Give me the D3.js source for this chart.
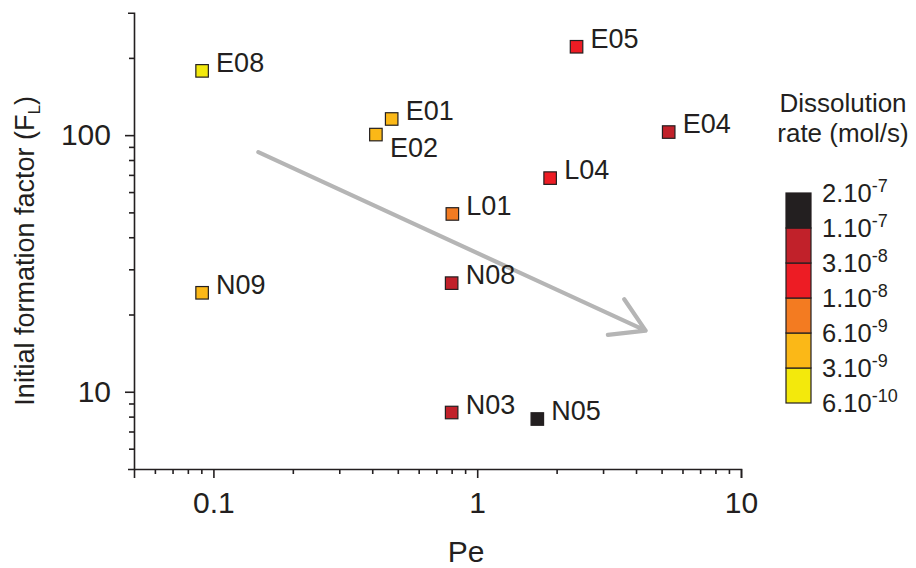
<!DOCTYPE html>
<html>
<head>
<meta charset="utf-8">
<script src="https://cdn.jsdelivr.net/npm/d3@7"></script>
<style>
  html, body { margin: 0; padding: 0; background: #fff; }
  text { font-family: "Liberation Sans", Arial, sans-serif; fill: #231f20; }
</style>
</head>
<body>
<svg id="chart" width="916" height="568"></svg>
<script>
// ---- data ----
const samples = ["E08", "E01", "E02", "E05", "E04", "L04", "L01", "N08", "N09", "N03", "N05"];
const peValues = [0.0906, 0.474, 0.413, 2.38, 5.32, 1.89, 0.805, 0.80, 0.0906, 0.80, 1.69];
const flValues = [178, 115.6, 100.5, 221, 102.8, 68, 49.3, 26.5, 24.3, 8.3, 7.83];
const rateValues = [1.5e-9, 4e-9, 4e-9, 2e-8, 5e-8, 2e-8, 8e-9, 5e-8, 4e-9, 5e-8, 1.5e-7];

const rateEdges = [6e-10, 3e-9, 6e-9, 1e-8, 3e-8, 1e-7, 2e-7];
const rateEdgeMantissa = ["6", "3", "6", "1", "3", "1", "2"];
const rateEdgeExponent = ["-10", "-9", "-9", "-8", "-8", "-7", "-7"];
const rateColors = ["#f3e90c", "#fbb817", "#f37b21", "#ed1c24", "#c1212a", "#231f20"];

const xMajorTicks = [0.1, 1, 10];
const xMinorTicks = [0.06, 0.07, 0.08, 0.09, 0.2, 0.3, 0.4, 0.5, 0.6, 0.7, 0.8, 0.9, 2, 3, 4, 5, 6, 7, 8, 9];
const yMajorTicks = [10, 100];
const yMinorTicks = [6, 7, 8, 9, 20, 30, 40, 50, 60, 70, 80, 90, 200];

const arrowFrom = [0.148, 85.9];
const arrowTo = [4.35, 17.3];

// ---- layout ----
const svg = d3.select("#chart");
const ink = "#231f20";
const plotLeft = 134, plotRight = 741, plotTop = 12.7, plotBottom = 469;

const x = d3.scaleLog().domain([0.05, 10]).range([plotLeft, plotRight]);
const y = d3.scaleLog().domain([5, 300]).range([plotBottom, plotTop]);
const color = d3.scaleThreshold().domain(rateEdges.slice(1, -1)).range(rateColors);

// ---- axes ----
function styleAxis(g) {
  g.selectAll("path, line").attr("stroke", ink).attr("stroke-width", 1.6);
}
const fmt = d => (d < 1 ? d3.format(".1f")(d) : d3.format("d")(d));

svg.append("g").attr("transform", `translate(0,${plotBottom})`)
  .call(d3.axisBottom(x).tickValues(xMinorTicks).tickSize(5).tickFormat(""))
  .call(g => g.select(".domain").remove()).call(styleAxis);
svg.append("g").attr("transform", `translate(0,${plotBottom})`)
  .call(d3.axisBottom(x).tickValues(xMajorTicks).tickSize(9).tickSizeOuter(9).tickPadding(14).tickFormat(fmt))
  .call(styleAxis)
  .call(g => g.selectAll("text").style("font-size", "30px").attr("fill", ink)
      .style("font-family", '"Liberation Sans", Arial, sans-serif'));

svg.append("g").attr("transform", `translate(${plotLeft},0)`)
  .call(d3.axisLeft(y).tickValues(yMinorTicks).tickSize(5).tickFormat(""))
  .call(g => g.select(".domain").remove()).call(styleAxis);
svg.append("g").attr("transform", `translate(${plotLeft},0)`)
  .call(d3.axisLeft(y).tickValues(yMajorTicks).tickSize(9).tickSizeOuter(6).tickPadding(14).tickFormat(fmt))
  .call(styleAxis)
  .call(g => g.selectAll("text").style("font-size", "30px").attr("fill", ink)
      .style("font-family", '"Liberation Sans", Arial, sans-serif'));

// axis titles
svg.append("text").attr("x", 466).attr("y", 562)
  .attr("text-anchor", "middle").style("font-size", "30px").text("Pe");

const yTitle = svg.append("text")
  .attr("transform", `translate(34,${(plotTop + plotBottom) / 2 + 10}) rotate(-90)`)
  .attr("text-anchor", "middle").style("font-size", "27px");
yTitle.append("tspan").text("Initial formation factor (F");
yTitle.append("tspan").attr("dy", 6).style("font-size", "17px").text("L");
yTitle.append("tspan").attr("dy", -6).text(")");

// ---- trend arrow ----
const ax0 = x(arrowFrom[0]), ay0 = y(arrowFrom[1]);
const ax1 = x(arrowTo[0]), ay1 = y(arrowTo[1]);
const ang = Math.atan2(ay1 - ay0, ax1 - ax0);
const barbLen = 38, barbAng = 31 * Math.PI / 180;
const barb = s => [ax1 - barbLen * Math.cos(ang + s * barbAng), ay1 - barbLen * Math.sin(ang + s * barbAng)];
const b1 = barb(1), b2 = barb(-1);
svg.append("path")
  .attr("d", `M${ax0},${ay0}L${ax1},${ay1}M${b1[0]},${b1[1]}L${ax1},${ay1}L${b2[0]},${b2[1]}`)
  .attr("fill", "none").attr("stroke", "#b5b5b5").attr("stroke-width", 4.2)
  .attr("stroke-linecap", "round").attr("stroke-linejoin", "round");

// ---- points ----
const labelOffset = { E02: [14, 22] };
const sq = 12.5;
const pts = svg.append("g").selectAll("g").data(samples.map((s, i) => i)).join("g")
  .attr("transform", i => `translate(${x(peValues[i])},${y(flValues[i])})`);
pts.append("rect")
  .attr("x", -sq / 2).attr("y", -sq / 2).attr("width", sq).attr("height", sq)
  .attr("fill", i => color(rateValues[i]))
  .attr("stroke", ink).attr("stroke-width", 1.2);
pts.append("text")
  .attr("x", i => (labelOffset[samples[i]] || [14, 0])[0])
  .attr("y", i => (labelOffset[samples[i]] || [14, 1])[1])
  .style("font-size", "27px").text(i => samples[i]);

// ---- legend ----
const lg = svg.append("g");
lg.append("text").attr("x", 843).attr("y", 112).attr("text-anchor", "middle")
  .style("font-size", "26px").text("Dissolution");
lg.append("text").attr("x", 843).attr("y", 142).attr("text-anchor", "middle")
  .style("font-size", "26px").text("rate (mol/s)");

const ly = d3.scaleLinear().domain([0, rateEdges.length - 1]).range([403, 193]);
lg.selectAll("rect").data(rateColors).join("rect")
  .attr("x", 786).attr("width", 25)
  .attr("y", (c, i) => ly(i + 1)).attr("height", (c, i) => ly(i) - ly(i + 1))
  .attr("fill", c => c).attr("stroke", ink).attr("stroke-width", 1.2);
const lt = lg.selectAll("text.lab").data(rateEdges).join("text").attr("class", "lab")
  .attr("x", 822).attr("y", (d, i) => ly(i) + 8.5).style("font-size", "25.5px");
lt.append("tspan").text((d, i) => rateEdgeMantissa[i] + ".10");
lt.append("tspan").attr("dy", -10).style("font-size", "18px").text((d, i) => rateEdgeExponent[i]);
</script>
</body>
</html>
